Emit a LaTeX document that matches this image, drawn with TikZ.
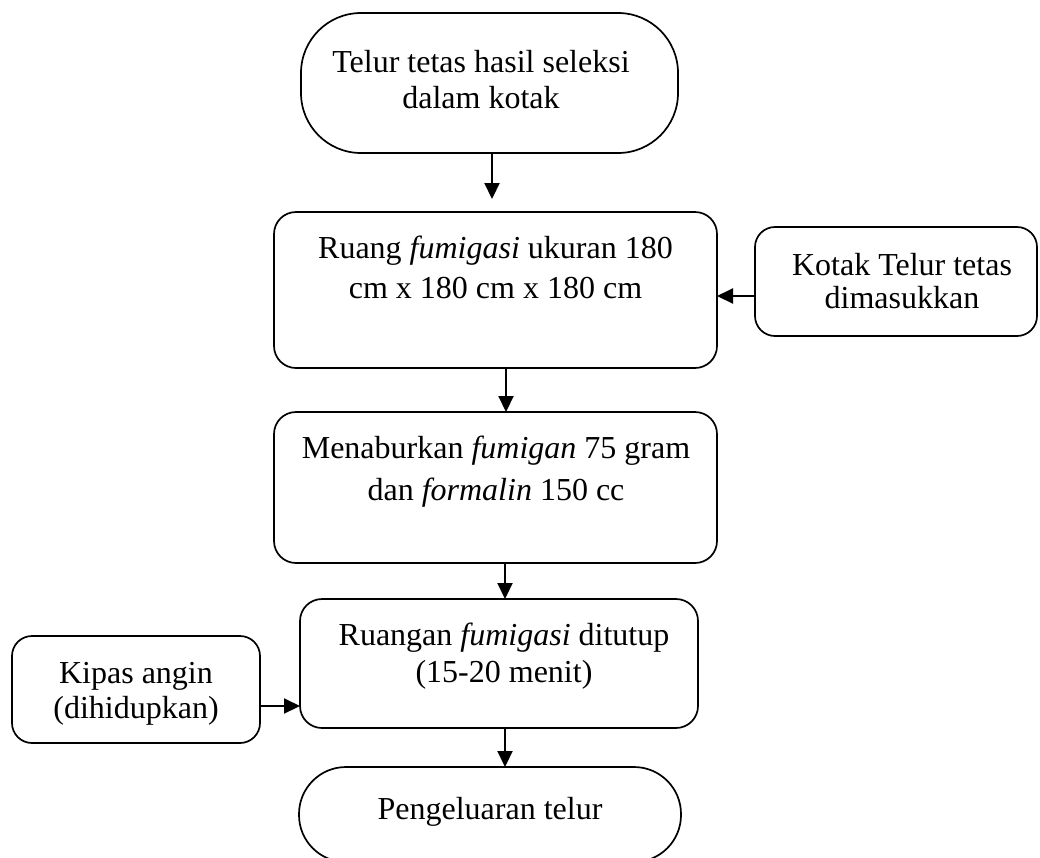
\documentclass[tikz,border=0pt]{standalone}
\usepackage{fontspec}
\setmainfont{Liberation Serif}
\usetikzlibrary{arrows.meta}
\newcommand{\lines}[3]{{\fontsize{32}{#1}\selectfont\begin{tabular}[t]{@{}c@{}}#2\\#3\end{tabular}}}
\begin{document}
\begin{tikzpicture}[x=1pt,y=-1pt,
  box/.style={draw, line width=1.7pt, anchor=north west, inner sep=0pt, outer sep=0pt},
  flow/.style={line width=2.1pt, -{Triangle[length=16pt,width=15pt]}},
  txt/.style={anchor=base, inner sep=0pt, outer sep=0pt, font=\fontsize{32}{37}\selectfont}]
\useasboundingbox (0,0) rectangle (1040,857);
\clip (0,0) rectangle (1040,857);

% process boxes
\node[box, rounded corners=60pt, minimum width=377pt, minimum height=140pt] (start) at (301,13) {};
\node[box, rounded corners=22pt, minimum width=443pt, minimum height=156pt] (ruang) at (274,212) {};
\node[box, rounded corners=20pt, minimum width=282pt, minimum height=109pt] (kotak) at (755,227) {};
\node[box, rounded corners=22pt, minimum width=443pt, minimum height=151pt] (tabur) at (274,412) {};
\node[box, rounded corners=22pt, minimum width=398pt, minimum height=129pt] (tutup) at (300,599) {};
\node[box, rounded corners=20pt, minimum width=248pt, minimum height=107pt] (kipas) at (12,636) {};
\node[box, rounded corners=47pt, minimum width=382pt, minimum height=95pt] (akhir) at (299,767) {};

% labels
\node[txt] (tstart) at (481,72) {\lines{36}{Telur tetas hasil seleksi}{dalam kotak}};
\node[txt] (truang) at (495.5,258) {\lines{40}{Ruang \textit{fumigasi} ukuran 180}{cm x 180 cm x 180 cm}};
\node[txt] (tkotak) at (902,275) {\lines{33}{Kotak Telur tetas}{dimasukkan}};
\node[txt] (ttabur) at (496,458) {\lines{42}{Menaburkan \textit{fumigan} 75 gram}{dan \textit{formalin} 150 cc}};
\node[txt] (ttutup) at (504,645) {\lines{37}{Ruangan \textit{fumigasi} ditutup}{(15-20 menit)}};
\node[txt] (tkipas) at (136,683) {\lines{35}{Kipas angin}{(dihidupkan)}};
\node[txt] (takhir) at (490,819) {Pengeluaran telur};

% connector guides
\coordinate (a1) at (492,0);
\coordinate (a2) at (506,0);
\coordinate (a3) at (505,0);
\coordinate (h1) at (0,296);
\coordinate (h2) at (0,706);

% connectors
\draw[flow, shorten >=13pt] (start.south -| a1) -- (ruang.north -| a1);
\draw[flow] (ruang.south -| a2) -- (tabur.north -| a2);
\draw[flow] (tabur.south -| a3) -- (tutup.north -| a3);
\draw[flow] (tutup.south -| a3) -- (akhir.north -| a3);
\draw[flow] (kotak.west |- h1) -- (ruang.east |- h1);
\draw[flow] (kipas.east |- h2) -- (tutup.west |- h2);
\end{tikzpicture}
\end{document}
